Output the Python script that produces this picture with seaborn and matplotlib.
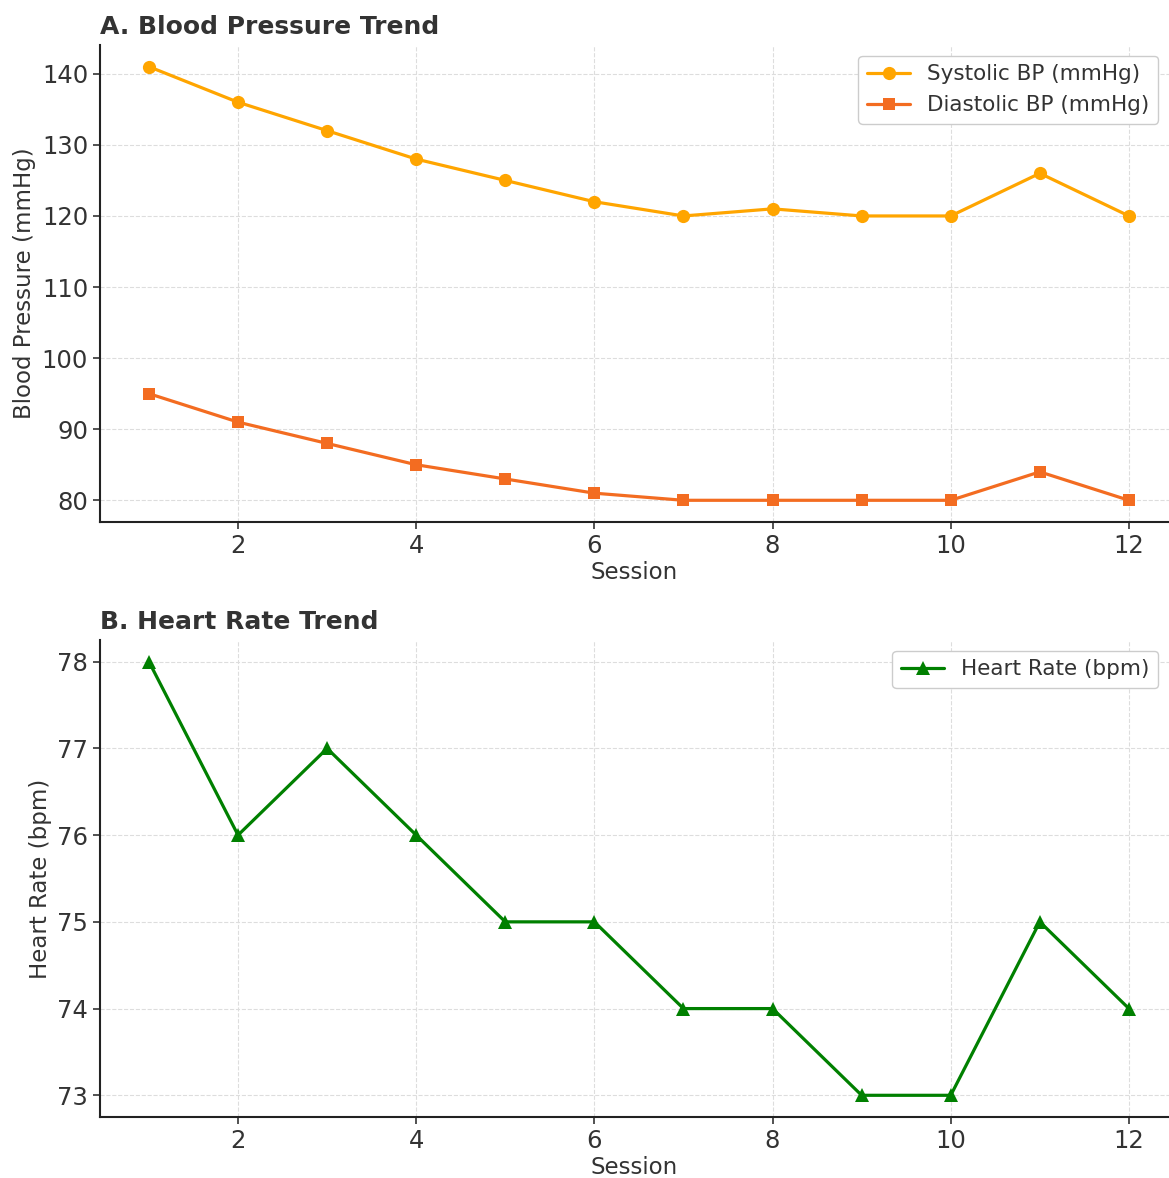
import numpy as np
import pandas as pd
import matplotlib.pyplot as plt
import seaborn as sns

# Session data
sessions = [1, 2, 3, 4, 5, 6, 7, 8, 9, 10, 11, 12]
systolic = [141, 136, 132, 128, 125, 122, 120, 121, 120, 120, 126, 120]
diastolic = [95, 91, 88, 85, 83, 81, 80, 80, 80, 80, 84, 80]
heart_rate = [78, 76, 77, 76, 75, 75, 74, 74, 73, 73, 75, 74]

df = pd.DataFrame({'Session': sessions, 'Systolic': systolic,
                   'Diastolic': diastolic, 'HeartRate': heart_rate})

sns.set_style('whitegrid', {'grid.linestyle': '--', 'grid.color': '#d9d9d9',
                            'axes.edgecolor': '#222222', 'xtick.bottom': True,
                            'ytick.left': True})
plt.rcParams['font.family'] = ['DejaVu Sans']
plt.rcParams['text.color'] = '#333333'
plt.rcParams['xtick.color'] = '#333333'
plt.rcParams['ytick.color'] = '#333333'
plt.rcParams['axes.labelcolor'] = '#333333'

fig = plt.figure(figsize=(11.69, 11.78), dpi=100)
ax1 = fig.add_axes([0.0855, 0.5569, 0.9145, 0.4049])
ax2 = fig.add_axes([0.0855, 0.0518, 0.9145, 0.4049])

# A. Blood pressure
sns.lineplot(data=df, x='Session', y='Systolic', ax=ax1, color='#FFA500',
             marker='o', markersize=9.5, markeredgewidth=0, linewidth=2.3,
             label='Systolic BP (mmHg)')
sns.lineplot(data=df, x='Session', y='Diastolic', ax=ax1, color='#F36C21',
             marker='s', markersize=8.5, markeredgewidth=0, linewidth=2.3,
             label='Diastolic BP (mmHg)')
ax1.set_title('A. Blood Pressure Trend', loc='left', fontsize=18,
              fontweight='bold', color='#333333', pad=8)
ax1.set_ylabel('Blood Pressure (mmHg)', fontsize=16.5)

# B. Heart rate
sns.lineplot(data=df, x='Session', y='HeartRate', ax=ax2, color='green',
             marker='^', markersize=9.5, markeredgewidth=0, linewidth=2.3,
             label='Heart Rate (bpm)')
ax2.set_title('B. Heart Rate Trend', loc='left', fontsize=18,
              fontweight='bold', color='#333333', pad=8)
ax2.set_ylabel('Heart Rate (bpm)', fontsize=16.5)

for ax in (ax1, ax2):
    ax.set_xlabel('Session', fontsize=16.5, labelpad=2)
    ax.set_xlim(0.45, 12.45)
    ax.set_xticks([2, 4, 6, 8, 10, 12])
    ax.tick_params(axis='both', labelsize=17.5, length=5, width=1.2)
    for side in ('top', 'right'):
        ax.spines[side].set_visible(False)
    for side in ('left', 'bottom'):
        ax.spines[side].set_linewidth(1.5)
    ax.grid(True, linestyle='--', color='#dddddd', linewidth=0.8)
    ax.legend(loc='upper right', fontsize=15.5, frameon=True, framealpha=1,
              edgecolor='#cccccc', fancybox=True)

fig.savefig('out.png', dpi=100)
